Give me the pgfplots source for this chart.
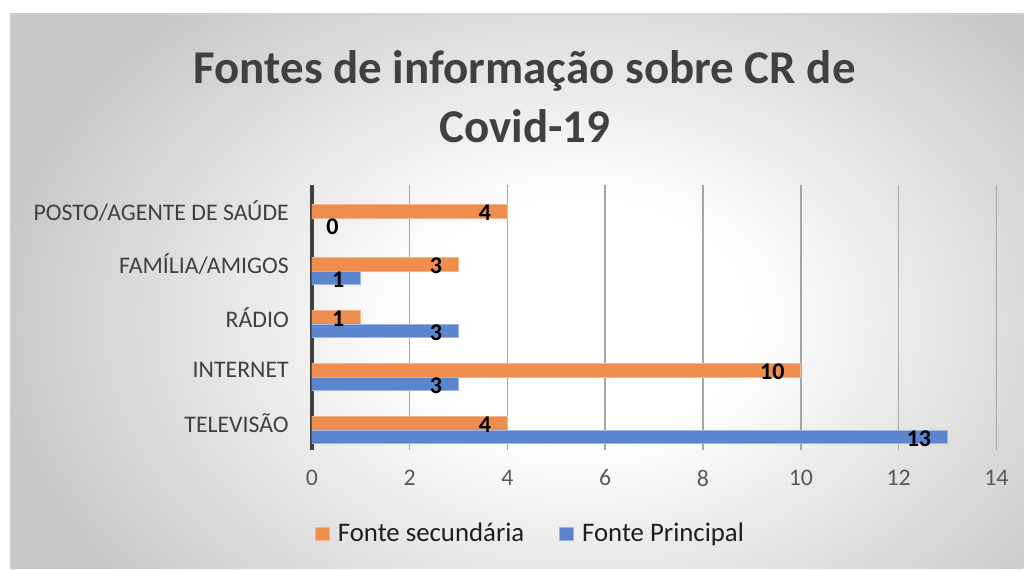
\documentclass[border=0pt]{standalone}
\usepackage{fontspec}
\setmainfont{Carlito}
\usepackage{pgfplots}
\pgfplotsset{compat=1.18}
\definecolor{orng}{RGB}{237,141,78}
\definecolor{blu}{RGB}{91,133,206}
\definecolor{txt}{RGB}{64,64,64}
\definecolor{legc}{RGB}{30,30,30}
\definecolor{tickc}{RGB}{89,89,89}
\definecolor{gridc}{RGB}{165,165,165}
\definecolor{bgg}{RGB}{198,198,198}
\pgfdeclareradialshading{bgshade}{\pgfpoint{0bp}{0bp}}{color(0bp)=(white); color(7bp)=(white); color(25bp)=(bgg); color(50bp)=(bgg)}
\begin{document}
\begin{tikzpicture}[x=1pt,y=1pt]
\fill[white] (0,0) rectangle (512,284.5);
\begin{scope}
\clip (5,0) rectangle (512,277.5);
\fill[bgg] (5,0) rectangle (512,277.5);
\shade[shading=bgshade] (-10,-90.5) rectangle (590,339.5);
\end{scope}
\draw[white!82!black, line width=0.6pt] (5.3,0) -- (5.3,277.2) -- (512,277.2);
\node[font=\bfseries\fontsize{23.5}{29.5}\selectfont, text=txt, align=center] at (262.5,236) {Fontes de informação sobre CR de\\Covid-19};
\begin{axis}[
  at={(156pt,59.5pt)}, anchor=south west,
  scale only axis, width=342.5pt, height=132.5pt,
  xmin=0, xmax=14, ymin=-0.5, ymax=4.5,
  xtick={0,2,...,14}, ytick={0,1,2,3,4},
  yticklabels={TELEVISÃO,INTERNET,RÁDIO,FAMÍLIA/AMIGOS,POSTO/AGENTE DE SAÚDE},
  axis line style={draw=none},
  major tick length=0pt, tick style={draw=none},
  xmajorgrids, major grid style={gridc, line width=0.75pt},
  extra x ticks={0}, extra x tick labels={},
  extra x tick style={major grid style={txt, line width=1.9pt}},
  xticklabel style={font=\fontsize{11.9}{14}\selectfont, text=tickc, yshift=-6.5pt},
  yticklabel style={font=\fontsize{11.9}{14}\selectfont, text=txt, xshift=-8pt},
  /pgf/number format/assume math mode=true,
  xbar, bar width=6.8pt,
  legend columns=2,
  legend style={at={(0.321,-0.318)}, anchor=center, draw=none, fill=none,
    font=\fontsize{13.4}{15}\selectfont, text=legc,
    /tikz/every odd column/.append style={column sep=2pt},
    /tikz/every even column/.append style={column sep=15.5pt}},
  legend image code/.code={\fill[#1] (0pt,-3.4pt) rectangle (7pt,3.4pt);},
  nodes near coords style={text=black, anchor=east, inner sep=0pt, xshift=-8pt, yshift=-0.8pt},
]
\addplot[fill=orng, draw=orng!65!white, line width=0.4pt, bar shift=0pt,
  nodes near coords={\bfseries\fontsize{12}{14}\selectfont\pgfplotspointmeta}, point meta=explicit symbolic]
  coordinates {(4,0)[4] (10,1)[10] (1,2)[1] (3,3)[3] (4,4)[4]};
\addlegendentry{Fonte secundária}
\addplot[fill=blu, draw=blu!60!white, line width=0.4pt, bar shift=-6.8pt,
  nodes near coords={\bfseries\fontsize{12}{14}\selectfont\pgfplotspointmeta}, point meta=explicit symbolic]
  coordinates {(13,0)[13] (3,1)[3] (3,2)[3] (1,3)[1]};
\addlegendentry{Fonte Principal}
% label of the zero value (no visible bar)
\addplot[forget plot, draw=none, fill=none, bar shift=-6.8pt,
  nodes near coords={\bfseries\fontsize{12}{14}\selectfont\pgfplotspointmeta}, point meta=explicit symbolic]
  coordinates {(0.88,4)[0]};
\end{axis}
\end{tikzpicture}
\end{document}
